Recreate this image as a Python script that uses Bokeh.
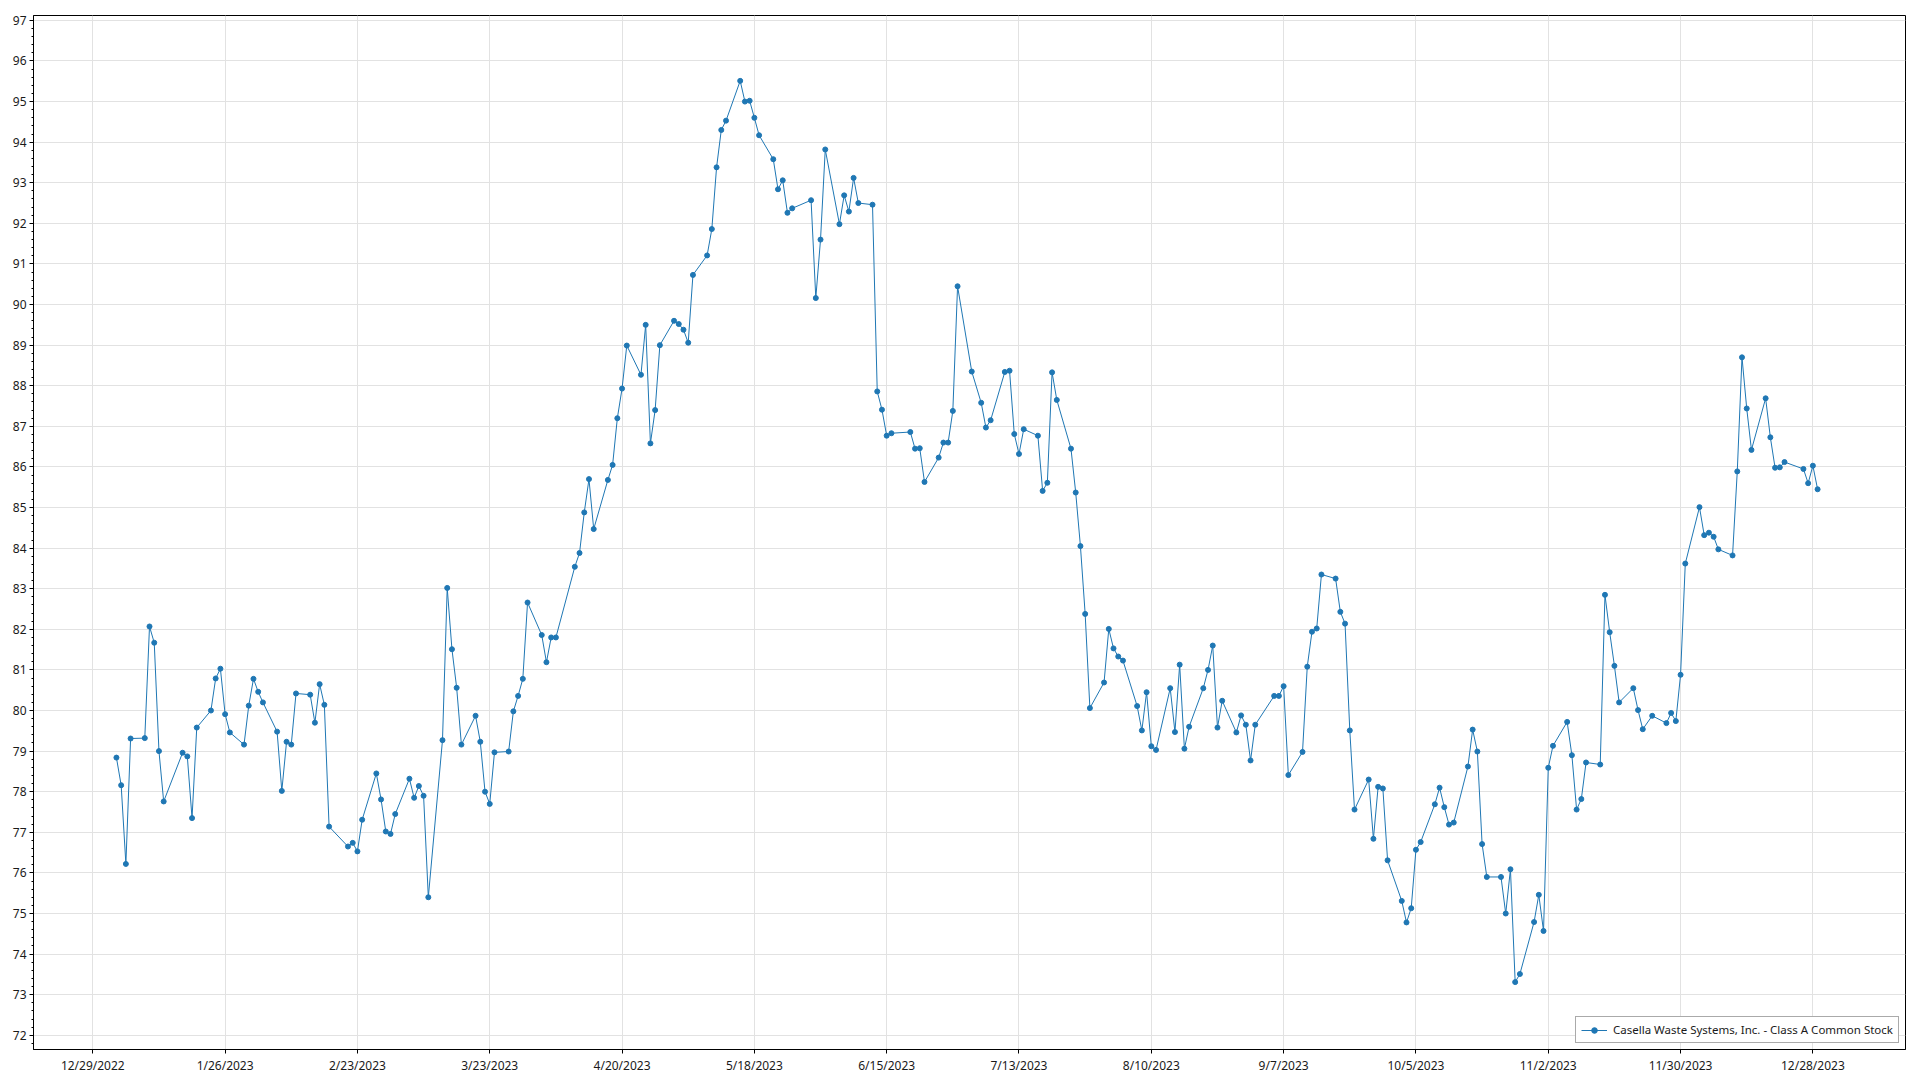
import numpy as np
from bokeh.plotting import figure
from bokeh.models import Range1d, FixedTicker, SingleIntervalTicker, Legend, LegendItem
from bokeh.embed import file_html
from bokeh.resources import INLINE

# ---- data (closing prices) ----
jan = [78.84, 78.16, 76.22, 79.31, 79.32, 82.07, 81.67, 79.00, 77.76, 78.96,
       78.87, 77.35, 79.58, 80.00, 80.79, 81.03, 79.91, 79.46, 79.16, 80.12]
feb = [80.78, 80.46, 80.20, 79.48, 78.02, 79.23, 79.16, 80.42, 80.39, 79.70,
       80.65, 80.14, 77.14, 76.65, 76.74, 76.53, 77.31, 78.45, 77.81]
mar = [77.02, 76.96, 77.45, 78.32, 77.85, 78.14, 77.90, 75.40, 79.27, 83.02,
       81.51, 80.56, 79.16, 79.87, 79.23, 78.00, 77.70, 78.97, 78.99, 79.98,
       80.36, 80.78, 82.66]
apr = [81.86, 81.19, 81.80, 81.80, 83.54, 83.88, 84.88, 85.70, 84.47, 85.68,
       86.05, 87.20, 87.93, 88.99, 88.27, 89.50, 86.58, 87.40, 89.00]
may = [89.60, 89.52, 89.38, 89.06, 90.73, 91.21, 91.86, 93.38, 94.30, 94.53,
       95.51, 95.00, 95.02, 94.60, 94.17, 93.58, 92.84, 93.06, 92.26, 92.37,
       92.57, 90.16]
jun = [91.60, 93.82, 91.98, 92.69, 92.29, 93.12, 92.50, 92.46, 87.86, 87.41,
       86.77, 86.83, 86.86, 86.45, 86.46, 85.63, 86.23, 86.60, 86.60, 87.38,
       90.45]
jul = [88.35, 87.58, 86.97, 87.15, 88.34, 88.37, 86.81, 86.32, 86.93, 86.77,
       85.41, 85.61, 88.33, 87.65, 86.45, 85.37, 84.05, 82.38, 80.06, 80.69]
aug = [82.01, 81.53, 81.33, 81.23, 80.11, 79.51, 80.45, 79.12, 79.03, 80.55,
       79.47, 81.13, 79.06, 79.60, 80.55, 81.00, 81.60, 79.58, 80.24, 79.46,
       79.88, 79.65, 78.77]
sep = [79.65, 80.36, 80.36, 80.60, 78.41, 78.98, 81.08, 81.94, 82.02, 83.35,
       83.25, 82.43, 82.14, 79.51, 77.56, 78.30, 76.84, 78.12, 78.08, 76.31]
oct_ = [75.31, 74.78, 75.13, 76.57, 76.76, 77.69, 78.10, 77.62, 77.19, 77.24,
        78.62, 79.53, 78.99, 76.71, 75.90, 75.90, 75.00, 76.09, 73.31, 73.51,
        74.79, 75.46]
nov = [74.57, 78.59, 79.13, 79.72, 78.90, 77.56, 77.82, 78.72, 78.67, 82.85,
       81.93, 81.10, 80.20, 80.55, 80.01, 79.54, 79.87, 79.69, 79.94, 79.74,
       80.88]
dec = [83.62, 85.01, 84.32, 84.38, 84.28, 83.97, 83.82, 85.89, 88.70, 87.44,
       86.42, 87.69, 86.73, 85.98, 85.99, 86.12, 85.95, 85.60, 86.03, 85.45]

prices = jan + feb + mar + apr + may + jun + jul + aug + sep + oct_ + nov + dec

holidays = ["2023-01-02", "2023-01-16", "2023-02-20", "2023-04-07", "2023-05-29",
            "2023-06-19", "2023-07-04", "2023-09-04", "2023-11-23", "2023-12-25"]

tick_labels = ["12/29/2022", "1/26/2023", "2/23/2023", "3/23/2023", "4/20/2023",
               "5/18/2023", "6/15/2023", "7/13/2023", "8/10/2023", "9/7/2023",
               "10/5/2023", "11/2/2023", "11/30/2023", "12/28/2023"]

series_name = "Casella Waste Systems, Inc. - Class A Common Stock"

# ---- dates -> day offsets from the first tick date ----
base = np.datetime64("2022-12-29")
all_days = np.arange(np.datetime64("2023-01-03"), np.datetime64("2023-12-30"))
trade_days = all_days[np.is_busday(all_days, holidays=holidays)]
n = min(len(trade_days), len(prices))
xs = (trade_days[:n] - base).astype(int).tolist()
ys = prices[:n]

tick_dates = [np.datetime64("%s-%02d-%02d" % (l.split("/")[2], int(l.split("/")[0]), int(l.split("/")[1])))
              for l in tick_labels]
tick_x = [int((d - base).astype(int)) for d in tick_dates]

FONT = "Noto Sans"
LINE_COLOR = "#1f77b4"

p = figure(width=1920, height=1080, output_backend="svg", toolbar_location=None,
           x_range=Range1d(-12.55, 383.6), y_range=Range1d(71.65, 97.12),
           min_border_left=33, min_border_right=15, min_border_top=15, min_border_bottom=31)

p.background_fill_color = "white"
p.border_fill_color = "white"
p.outline_line_color = "black"
p.outline_line_width = 1
p.outline_line_alpha = 1

line_r = p.line(xs, ys, line_color=LINE_COLOR, line_width=1)
pts_r = p.scatter(xs, ys, size=5, fill_color=LINE_COLOR, line_color=LINE_COLOR)

# axes
xa = p.xaxis[0]
xa.ticker = FixedTicker(ticks=tick_x)
xa.major_label_overrides = {t: l for t, l in zip(tick_x, tick_labels)}
xa.major_tick_out = 4
xa.major_tick_in = 0
xa.minor_tick_out = 0
xa.minor_tick_in = 0
xa.major_label_standoff = 3
xa.axis_line_color = "black"
xa.major_tick_line_color = "black"

ya = p.yaxis[0]
ya.ticker = SingleIntervalTicker(interval=1, num_minor_ticks=5)
ya.major_tick_out = 4
ya.major_tick_in = 0
ya.minor_tick_out = 2
ya.minor_tick_in = 0
ya.major_label_standoff = 3
ya.axis_line_color = "black"
ya.major_tick_line_color = "black"
ya.minor_tick_line_color = "black"

for ax in (xa, ya):
    ax.major_label_text_font = FONT
    ax.major_label_text_font_size = "12px"
    ax.major_label_text_color = "#1a1a1a"

p.xgrid.ticker = FixedTicker(ticks=tick_x)
p.ygrid.ticker = SingleIntervalTicker(interval=1)
p.xgrid.grid_line_color = "#e2e2e2"
p.ygrid.grid_line_color = "#e2e2e2"
p.xgrid.grid_line_width = 1
p.ygrid.grid_line_width = 1

legend = Legend(items=[LegendItem(label=series_name, renderers=[line_r, pts_r])],
                location="bottom_right")
legend.margin = 6
legend.padding = 5
legend.spacing = 0
legend.border_line_color = "#555555"
legend.border_line_width = 1
legend.background_fill_color = "white"
legend.background_fill_alpha = 1
legend.label_text_font = FONT
legend.label_text_font_size = "11.5px"
legend.label_text_color = "#1a1a1a"
legend.glyph_width = 26
legend.glyph_height = 14
legend.label_height = 14
legend.label_standoff = 6
p.add_layout(legend)

open("out.html", "w").write(file_html(p, INLINE))
